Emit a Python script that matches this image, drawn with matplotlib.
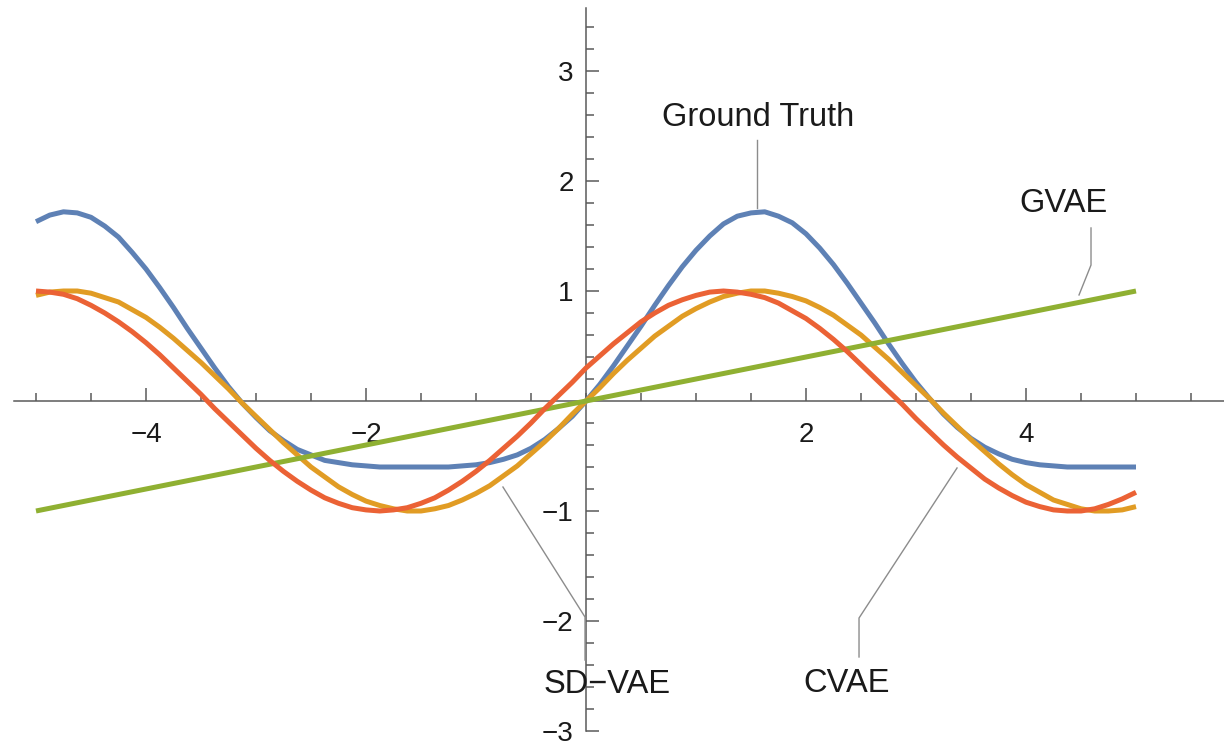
import matplotlib

matplotlib.use("Agg")
import matplotlib.pyplot as plt
import numpy as np

# sample grid (x, step 0.125 from -5 to 5) and curve values
x_vals = np.linspace(-5, 5, 81)
ground_truth = [1.63, 1.69, 1.72, 1.71, 1.67, 1.59, 1.49, 1.35, 1.20, 1.03,
                0.85, 0.66, 0.48, 0.30, 0.13, -0.02, -0.15, -0.27, -0.36, -0.44,
                -0.49, -0.54, -0.56, -0.58, -0.59, -0.60, -0.60, -0.60, -0.60, -0.60,
                -0.60, -0.59, -0.58, -0.56, -0.53, -0.49, -0.43, -0.35, -0.25, -0.14,
                0.00, 0.15, 0.32, 0.50, 0.68, 0.87, 1.05, 1.22, 1.37, 1.50,
                1.61, 1.68, 1.71, 1.72, 1.68, 1.62, 1.52, 1.39, 1.24, 1.07,
                0.89, 0.71, 0.52, 0.34, 0.17, 0.02, -0.12, -0.24, -0.34, -0.42,
                -0.48, -0.53, -0.56, -0.58, -0.59, -0.60, -0.60, -0.60, -0.60, -0.60,
                -0.60]
sd_vae = [0.96, 0.99, 1.00, 1.00, 0.98, 0.94, 0.90, 0.83, 0.76, 0.67,
          0.57, 0.46, 0.35, 0.23, 0.11, -0.02, -0.14, -0.26, -0.38, -0.49,
          -0.60, -0.69, -0.78, -0.85, -0.91, -0.95, -0.98, -1.00, -1.00, -0.98,
          -0.95, -0.90, -0.84, -0.77, -0.68, -0.59, -0.48, -0.37, -0.25, -0.12,
          0.00, 0.12, 0.25, 0.37, 0.48, 0.59, 0.68, 0.77, 0.84, 0.90,
          0.95, 0.98, 1.00, 1.00, 0.98, 0.95, 0.91, 0.85, 0.78, 0.69,
          0.60, 0.49, 0.38, 0.26, 0.14, 0.02, -0.11, -0.23, -0.35, -0.46,
          -0.57, -0.67, -0.76, -0.83, -0.90, -0.94, -0.98, -1.00, -1.00, -0.99,
          -0.96]
cvae = [1.00, 0.99, 0.97, 0.93, 0.87, 0.80, 0.72, 0.63, 0.53, 0.42,
        0.30, 0.18, 0.06, -0.07, -0.19, -0.31, -0.43, -0.54, -0.64, -0.73,
        -0.81, -0.88, -0.93, -0.97, -0.99, -1.00, -0.99, -0.97, -0.93, -0.88,
        -0.81, -0.73, -0.64, -0.54, -0.43, -0.32, -0.20, -0.07, 0.05, 0.17,
        0.30, 0.41, 0.52, 0.62, 0.72, 0.80, 0.87, 0.92, 0.96, 0.99,
        1.00, 0.99, 0.97, 0.94, 0.89, 0.82, 0.75, 0.66, 0.56, 0.45,
        0.33, 0.21, 0.09, -0.03, -0.16, -0.28, -0.40, -0.51, -0.61, -0.71,
        -0.79, -0.86, -0.92, -0.96, -0.99, -1.00, -1.00, -0.98, -0.94, -0.89,
        -0.83]
gvae_x = [-5.0, 5.0]
gvae = [-1.0, 1.0]

x_ticks = [-4, -2, 2, 4]
y_ticks = [-3, -2, -1, 1, 2, 3]

BLUE = "#5e81b5"
ORANGE = "#e19c24"
GREEN = "#8fb032"
RED = "#eb6235"
AXIS = "#5a5a5a"
LEADER = "#8c8c8c"

plt.rcParams["font.family"] = ["Liberation Sans", "DejaVu Sans"]

fig = plt.figure(figsize=(12.24, 7.44), dpi=100)
ax = fig.add_axes([0, 0, 1, 1])
ax.set_xlim(-586 / 110, (1224 - 586) / 110)
ax.set_ylim((401 - 744) / 110, 401 / 110)

kw = dict(lw=3.6, solid_joinstyle="round", solid_capstyle="butt")
ax.plot(x_vals, ground_truth, color=BLUE, zorder=3, **kw)
ax.plot(x_vals, sd_vae, color=ORANGE, zorder=4, **kw)
ax.plot(gvae_x, gvae, color=GREEN, zorder=5, **kw)
ax.plot(x_vals, cvae, color=RED, zorder=6, **kw)

# axes through the origin, Mathematica style
for side in ("top", "right"):
    ax.spines[side].set_visible(False)
ax.spines["left"].set_position(("data", 0))
ax.spines["bottom"].set_position(("data", 0))
ax.spines["left"].set_bounds(-3, 3.57)
ax.spines["bottom"].set_bounds(-5.2, 5.8)
for side in ("left", "bottom"):
    ax.spines[side].set_color(AXIS)
    ax.spines[side].set_linewidth(1.1)
    ax.spines[side].set_zorder(2)

ax.set_xticks(x_ticks)
ax.set_yticks(y_ticks)
ax.set_xticks(np.arange(-5, 5.51, 0.5), minor=True)
ax.set_yticks(np.arange(-3, 3.51, 0.2), minor=True)
ax.tick_params(which="both", direction="in", color=AXIS, width=1.1)
ax.tick_params(which="major", length=9.5, labelsize=20, labelcolor="#1a1a1a")
ax.tick_params(which="minor", length=5.5)
ax.tick_params(axis="x", which="major", pad=15)
ax.tick_params(axis="y", which="major", pad=9)

# labels with leader lines
lab = dict(fontsize=23.5, color="#1a1a1a", ha="center", va="center", zorder=8)
ax.text(1.565, 2.58, "Ground Truth", **lab)
ax.text(4.345, 1.80, "GVAE", **lab)
ax.text(0.191, -2.573, "SD\u2212VAE", **lab)
ax.text(2.373, -2.564, "CVAE", **lab)

ll = dict(color=LEADER, lw=1.0, zorder=7)
ax.plot([1.555, 1.555], [2.373, 1.755], **ll)
ax.plot([4.591, 4.591, 4.482], [1.573, 1.236, 0.964], **ll)
ax.plot([2.482, 2.482, 3.373], [-2.327, -1.973, -0.609], **ll)
ax.plot([-0.009, -0.009, -0.755], [-2.355, -1.964, -0.782], **ll)

fig.savefig("out.png", dpi=100)
plt.close(fig)
